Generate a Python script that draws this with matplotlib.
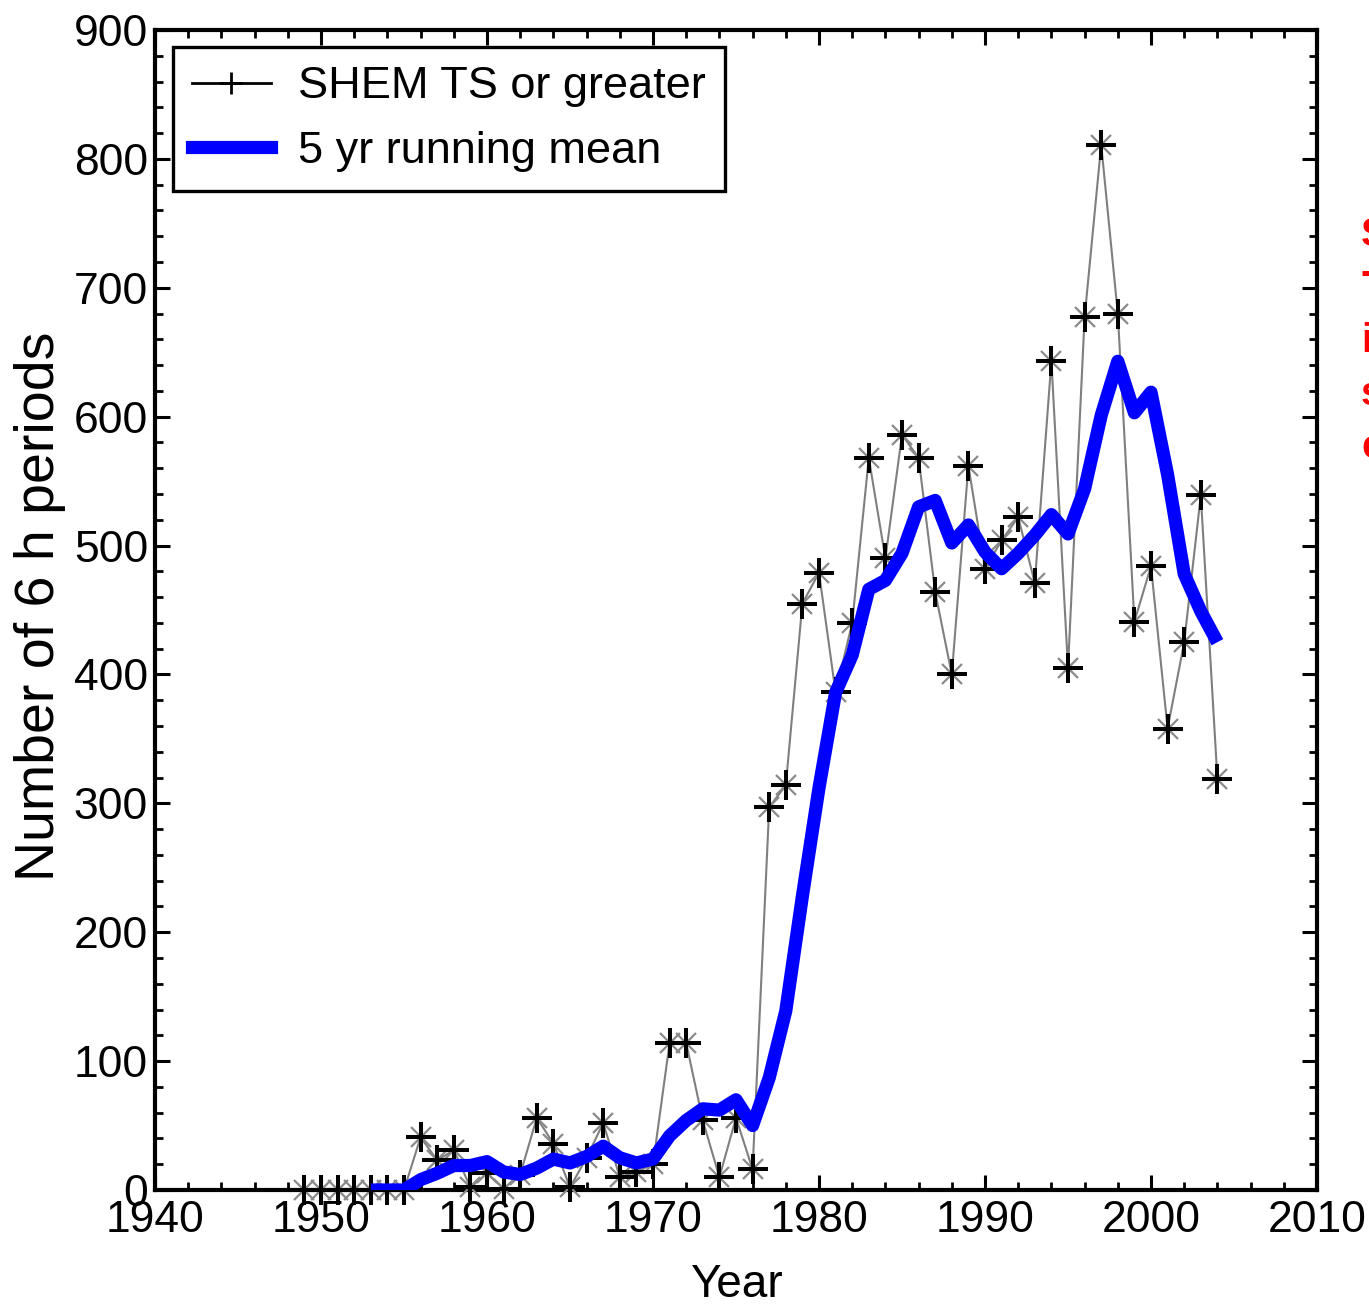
import matplotlib
matplotlib.use("Agg")
import matplotlib.pyplot as plt
from matplotlib.ticker import MultipleLocator
from matplotlib.lines import Line2D

NARROW = ["Liberation Sans Narrow", "Liberation Sans", "DejaVu Sans"]
REGULAR = ["Liberation Sans", "DejaVu Sans"]

# Annual counts of 6-hourly periods at tropical-storm strength or greater (Southern Hemisphere)
years = list(range(1949, 2005))
counts = [0, 0, 0, 0, 0, 0, 0, 41, 23, 31,
          2, 13, 1, 12, 56, 36, 2, 25, 52, 10,
          14, 20, 114, 114, 54, 10, 56, 16, 297, 314,
          455, 479, 386, 440, 568, 490, 586, 568, 464, 400,
          562, 482, 504, 522, 471, 643, 405, 677, 811, 680,
          441, 484, 358, 425, 539, 319]

# 5-year running mean (trailing window), 1953 onwards
mean_years = list(range(1953, 2005))
mean_vals = [0, 0, 0, 8, 13, 19, 19, 22, 14, 12,
             17, 24, 21, 26, 34, 25, 21, 24, 42, 54,
             63, 62, 70, 50, 87, 139, 228, 312, 386, 415,
             466, 473, 494, 530, 535, 502, 516, 495, 482, 494,
             508, 524, 509, 544, 601, 643, 603, 619, 555, 478,
             449, 425]

series_label = "SHEM TS or greater"
mean_label = "5 yr running mean"
x_label = "Year"
y_label = "Number of 6 h periods"
side_note = "Sharp\nTrend\nin\nsatellite\nera"

W, H, DPI = 1369, 1315, 100
fig = plt.figure(figsize=(W / DPI, H / DPI), dpi=DPI)
ax = fig.add_axes([155 / W, 1 - 1190 / H, (1317 - 155) / W, (1190 - 30) / H])

# thin grey connecting line
ax.plot(years, counts, color="#7f7f7f", lw=1.5, zorder=2)
# asterisk markers: faint diagonals + bold cross
ax.plot(years, counts, ls="none", marker="x", ms=14, mew=1.6,
        color="#8a8a8a", clip_on=False, zorder=3)
ax.plot(years, counts, ls="none", marker="+", ms=21, mew=2.9,
        color="black", clip_on=False, zorder=4)
# running mean
ax.plot(mean_years, mean_vals, color="#0000ff", lw=9.5,
        solid_joinstyle="round", solid_capstyle="butt", zorder=5)

ax.set_xlim(1940, 2010)
ax.set_ylim(0, 900)
ax.xaxis.set_major_locator(MultipleLocator(10))
ax.xaxis.set_minor_locator(MultipleLocator(2))
ax.yaxis.set_major_locator(MultipleLocator(100))
ax.yaxis.set_minor_locator(MultipleLocator(20))

for side in ax.spines.values():
    side.set_linewidth(3.0)
ax.tick_params(which="both", direction="in", top=True, right=True,
               color="black")
ax.tick_params(which="major", length=11, width=2.2)
ax.tick_params(which="minor", length=5.5, width=2.0)
ax.tick_params(axis="y", which="major", pad=5)
ax.tick_params(axis="x", which="major", pad=7)

for lab in ax.get_xticklabels() + ax.get_yticklabels():
    lab.set_family(NARROW)
    lab.set_fontsize(32)

ax.set_xlabel(x_label, family=NARROW, fontsize=33)
ax.xaxis.set_label_coords(0.5, -0.063)
ax.set_ylabel(y_label, family=REGULAR, fontsize=40)
ax.yaxis.label.set_verticalalignment("center")
ax.yaxis.set_label_coords(-0.099, 0.503)

# legend with proxy handles mirroring the plotted styles
h1 = Line2D([], [], color="black", lw=2.0, marker="+", ms=16, mew=2.0)
h2 = Line2D([], [], color="#0000ff", lw=9.5)
leg = ax.legend([h1, h2], [series_label, mean_label],
                loc="upper left", bbox_to_anchor=(0.0155, 0.985),
                borderaxespad=0, fancybox=False, framealpha=1,
                edgecolor="black", handlelength=1.75, handletextpad=0.6,
                borderpad=0.42, labelspacing=0.53,
                prop={"family": NARROW, "size": 32.5})
leg.get_frame().set_linewidth(2.4)

fig.text(1361 / W, 1 - 216 / H, side_note, color="red", fontsize=29,
         fontweight="bold", family=REGULAR, ha="left", va="top",
         linespacing=1.5)

fig.savefig("out.png", dpi=DPI)
